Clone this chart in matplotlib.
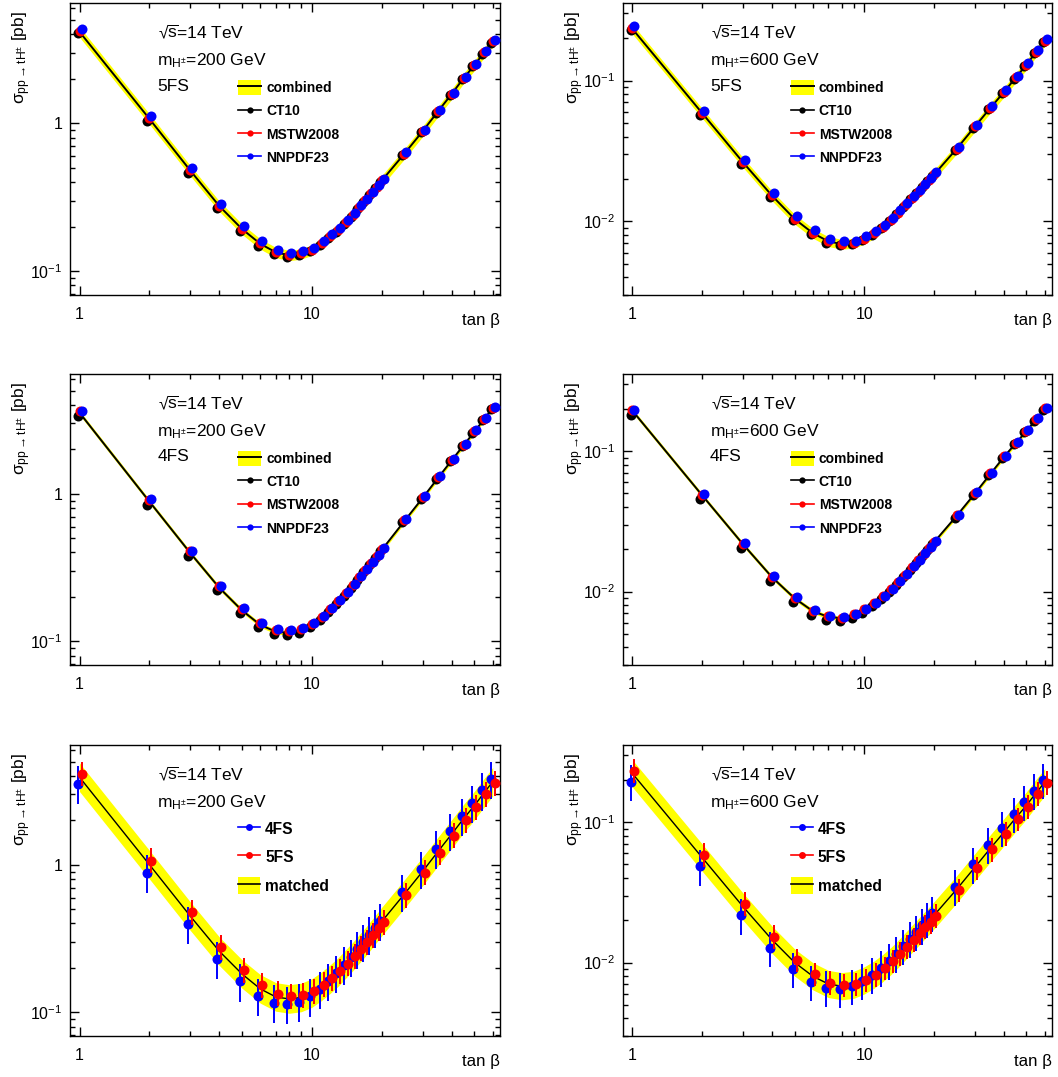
import numpy as np
import matplotlib
matplotlib.use('Agg')
import matplotlib.pyplot as plt
from matplotlib.lines import Line2D
from matplotlib.patches import Patch
from matplotlib.ticker import FixedLocator, FixedFormatter, LogLocator, NullFormatter

plt.rcParams['font.family'] = ['Liberation Sans', 'DejaVu Sans']
plt.rcParams['mathtext.fontset'] = 'custom'
plt.rcParams['mathtext.rm'] = 'Liberation Sans'
plt.rcParams['mathtext.it'] = 'Liberation Sans:italic'
plt.rcParams['mathtext.bf'] = 'Liberation Sans:bold'
plt.rcParams['mathtext.default'] = 'regular'
plt.rcParams['mathtext.fallback'] = 'stixsans'

# ---------------- data ----------------
tanb = [1, 2, 3, 4, 5, 6, 7, 8, 9, 10, 11, 12, 13, 14, 15, 16, 17, 18, 19, 20,
        25, 30, 35, 40, 45, 50, 55, 60]

# 5FS, mH = 200 GeV
comb5_200 = [4.15, 1.07, 0.478, 0.275, 0.193, 0.153, 0.134, 0.128, 0.131, 0.139, 0.154, 0.171, 0.190, 0.214,
             0.240, 0.270, 0.300, 0.335, 0.372, 0.410, 0.622, 0.885, 1.21, 1.58, 2.02, 2.46, 3.00, 3.57]
ct10_5_200 = [4.05, 1.04, 0.463, 0.267, 0.188, 0.149, 0.131, 0.125, 0.128, 0.136, 0.150, 0.167, 0.185, 0.209,
              0.234, 0.264, 0.293, 0.327, 0.364, 0.401, 0.609, 0.867, 1.18, 1.55, 1.98, 2.42, 2.95, 3.51]
mstw5_200 = [4.18, 1.08, 0.481, 0.277, 0.194, 0.154, 0.135, 0.129, 0.132, 0.140, 0.155, 0.172, 0.191, 0.215,
             0.241, 0.271, 0.301, 0.336, 0.373, 0.411, 0.624, 0.888, 1.21, 1.58, 2.03, 2.47, 3.01, 3.58]
nnpdf5_200 = [4.36, 1.12, 0.497, 0.286, 0.201, 0.159, 0.139, 0.133, 0.136, 0.144, 0.160, 0.177, 0.197, 0.221,
              0.248, 0.278, 0.309, 0.344, 0.382, 0.421, 0.637, 0.904, 1.23, 1.61, 2.06, 2.51, 3.06, 3.64]

# 4FS, mH = 200 GeV
comb4_200 = [3.55, 0.885, 0.396, 0.230, 0.162, 0.129, 0.116, 0.114, 0.118, 0.128, 0.144, 0.163, 0.185, 0.210,
             0.237, 0.268, 0.300, 0.336, 0.375, 0.417, 0.653, 0.940, 1.29, 1.69, 2.14, 2.63, 3.20, 3.82]
ct10_4_200 = [3.35, 0.843, 0.381, 0.222, 0.156, 0.125, 0.112, 0.110, 0.114, 0.124, 0.140, 0.158, 0.180, 0.204,
              0.231, 0.262, 0.294, 0.330, 0.369, 0.410, 0.643, 0.928, 1.27, 1.66, 2.10, 2.59, 3.15, 3.77]
mstw4_200 = [3.62, 0.911, 0.407, 0.236, 0.166, 0.132, 0.119, 0.117, 0.121, 0.131, 0.147, 0.166, 0.188, 0.213,
             0.241, 0.272, 0.305, 0.341, 0.381, 0.423, 0.661, 0.951, 1.30, 1.70, 2.15, 2.65, 3.22, 3.85]
nnpdf4_200 = [3.66, 0.920, 0.411, 0.238, 0.168, 0.134, 0.121, 0.119, 0.123, 0.133, 0.149, 0.168, 0.190, 0.216,
              0.244, 0.276, 0.309, 0.346, 0.386, 0.429, 0.670, 0.963, 1.32, 1.72, 2.18, 2.69, 3.27, 3.91]

# matched, mH = 200 GeV
matched_200 = [3.93, 1.002, 0.448, 0.259, 0.182, 0.144, 0.127, 0.123, 0.126, 0.135, 0.150, 0.168, 0.188, 0.213,
               0.239, 0.269, 0.300, 0.335, 0.373, 0.413, 0.633, 0.905, 1.24, 1.62, 2.06, 2.52, 3.07, 3.66]

# 5FS, mH = 600 GeV
comb5_600 = [0.232, 0.0585, 0.0262, 0.0152, 0.0104, 0.00825, 0.0072, 0.0069, 0.0070, 0.0075, 0.0082, 0.0091,
             0.0102, 0.0115, 0.0130, 0.0146, 0.0162, 0.0179, 0.0196, 0.0215, 0.0327, 0.0471, 0.0640, 0.0826,
             0.105, 0.129, 0.159, 0.190]
ct10_5_600 = [0.228, 0.0573, 0.0257, 0.0149, 0.01019, 0.00808, 0.00706, 0.00676, 0.00686, 0.00735, 0.00804,
              0.00892, 0.0100, 0.01127, 0.01274, 0.01431, 0.01588, 0.01754, 0.01921, 0.02107, 0.03205, 0.04616,
              0.0627, 0.0809, 0.1029, 0.1264, 0.1558, 0.1862]
mstw5_600 = [0.234, 0.0588, 0.0264, 0.01528, 0.01045, 0.00829, 0.00724, 0.00693, 0.00704, 0.00754, 0.00824,
             0.00915, 0.01025, 0.01155, 0.01306, 0.01467, 0.01628, 0.01799, 0.0197, 0.0216, 0.03286, 0.04733,
             0.0643, 0.0830, 0.1055, 0.1296, 0.1598, 0.1909]
nnpdf5_600 = [0.243, 0.0611, 0.0274, 0.01588, 0.01087, 0.00862, 0.00752, 0.0072, 0.00731, 0.00782, 0.00855,
              0.00948, 0.01062, 0.01196, 0.01351, 0.01516, 0.01681, 0.01856, 0.0203, 0.0223, 0.03385, 0.04869,
              0.0661, 0.0853, 0.1083, 0.1330, 0.1638, 0.1955]

# 4FS, mH = 600 GeV
comb4_600 = [0.194, 0.0484, 0.0217, 0.01265, 0.00897, 0.00725, 0.0066, 0.00646, 0.0068, 0.0074, 0.0082, 0.0092,
             0.0103, 0.0116, 0.0131, 0.0148, 0.0165, 0.0184, 0.0204, 0.0225, 0.0346, 0.0500, 0.0690, 0.0910,
             0.114, 0.139, 0.168, 0.200]
ct10_4_600 = [0.182, 0.0455, 0.0204, 0.01191, 0.00846, 0.00686, 0.00626, 0.00615, 0.00649, 0.00708, 0.00786,
              0.00884, 0.00991, 0.01118, 0.01264, 0.0143, 0.01597, 0.01783, 0.0198, 0.02186, 0.0337, 0.0488,
              0.06745, 0.08905, 0.1117, 0.1363, 0.1648, 0.1962]
mstw4_600 = [0.196, 0.0489, 0.0219, 0.01278, 0.00906, 0.00732, 0.00667, 0.00652, 0.00687, 0.00747, 0.00828,
             0.00929, 0.0104, 0.01172, 0.01323, 0.01495, 0.01667, 0.01858, 0.0206, 0.0227, 0.0349, 0.0505,
             0.0697, 0.0919, 0.1151, 0.1404, 0.1697, 0.2020]
nnpdf4_600 = [0.198, 0.0494, 0.0221, 0.0129, 0.00915, 0.0074, 0.00673, 0.00659, 0.00694, 0.00755, 0.00836,
              0.00938, 0.01051, 0.01183, 0.01336, 0.0151, 0.01683, 0.01877, 0.0208, 0.0230, 0.0353, 0.0510,
              0.0704, 0.0928, 0.1163, 0.1418, 0.1714, 0.2040]

# matched, mH = 600 GeV
matched_600 = [0.222, 0.0559, 0.0250, 0.01454, 0.01003, 0.00799, 0.00704, 0.00679, 0.00695, 0.00747, 0.0082,
               0.00913, 0.01023, 0.01153, 0.01303, 0.01465, 0.01628, 0.01803, 0.01981, 0.02176, 0.0332, 0.04785,
               0.0653, 0.0848, 0.1073, 0.1316, 0.1613, 0.1926]

band_5fs = 0.08
band_4fs = 0.035
band_matched_up = 0.25
band_matched_dn = 0.20
err4_up, err4_dn = 0.31, 0.27
err5_up, err5_dn = 0.21, 0.18

pdf_names = ['CT10', 'MSTW2008', 'NNPDF23']
scheme_names = ['4FS', '5FS']
masses = ['200', '600']

xtick_vals = [1, 10]
xtick_labels = ['1', '10']
ytick_vals_200 = [0.1, 1]
ytick_labels_200 = [r'$10^{-1}$', '1']
ytick_vals_600 = [0.01, 0.1]
ytick_labels_600 = [r'$10^{-2}$', r'$10^{-1}$']

# ---------------- layout ----------------
W, H = 1058, 1077
fig = plt.figure(figsize=(W / 100, H / 100), dpi=100)

cols = [(70, 430), (623, 429)]
rows = [(3, 292), (374, 291), (745, 291)]

YLIM = {'200': (0.069, 6.5), '600': (0.003, 0.355)}
XLIM = (0.91, 64.5)

PDF_COL = ['black', 'red', 'blue']


def make_axes(col, row):
    x0, w = cols[col]
    y0, h = rows[row]
    ax = fig.add_axes([x0 / W, 1 - (y0 + h) / H, w / W, h / H])
    return ax


def style_axes(ax, mass, col, row):
    ax.set_xscale('log')
    ax.set_yscale('log')
    ax.set_xlim(*XLIM)
    ax.set_ylim(*YLIM[mass])
    ax.xaxis.set_major_locator(FixedLocator(xtick_vals))
    ax.xaxis.set_major_formatter(FixedFormatter(xtick_labels))
    ax.xaxis.set_minor_locator(LogLocator(base=10, subs=np.arange(2, 10), numticks=50))
    ax.xaxis.set_minor_formatter(NullFormatter())
    if mass == '200':
        ax.yaxis.set_major_locator(FixedLocator(ytick_vals_200))
        ax.yaxis.set_major_formatter(FixedFormatter(ytick_labels_200))
    else:
        ax.yaxis.set_major_locator(FixedLocator(ytick_vals_600))
        ax.yaxis.set_major_formatter(FixedFormatter(ytick_labels_600))
    ax.yaxis.set_minor_locator(LogLocator(base=10, subs=np.arange(2, 10), numticks=50))
    ax.yaxis.set_minor_formatter(NullFormatter())
    ax.tick_params(which='both', direction='in', top=True, right=True, width=1.0, labelsize=11.5)
    ax.tick_params(which='major', length=6.5)
    ax.tick_params(which='minor', length=3.6)
    ax.tick_params(axis='x', which='major', pad=8.5)
    ax.tick_params(axis='y', which='major', pad=5.4)
    for s in ax.spines.values():
        s.set_linewidth(1.0)
    ax.text(1.0, -0.089, 'tan β', transform=ax.transAxes, ha='right', va='center', fontsize=12.2)
    x0, w = cols[col]
    y0, h = rows[row]
    fig.text((x0 - 48) / W, 1 - (y0 + 8) / H, r'$\sigma_{pp \rightarrow tH^{\pm}}$ [pb]',
             rotation=90, ha='center', va='top', fontsize=12.5)
    ax.text(0.205, 0.877, '√' + r'$\overline{\mathrm{s}}$' + '=14 TeV', transform=ax.transAxes,
            ha='left', va='baseline', fontsize=12.5)
    ax.text(0.203, 0.785, r'm$_{H^{\pm}}$=' + mass + ' GeV', transform=ax.transAxes, ha='left',
            va='baseline', fontsize=12.5)


def pdf_panel(col, row, mass, scheme, comb, band, series):
    ax = make_axes(col, row)
    x = np.array(tanb, dtype=float)
    c = np.array(comb)
    ax.fill_between(x, c * (1 - band), c * (1 + band), color='#ffff00', lw=0, zorder=1)
    ax.plot(x, c, color='black', lw=1.4, zorder=2)
    shifts = [1 / 1.02, 1.0, 1.02]
    for vals, colr, sh in zip(series, PDF_COL, shifts):
        ax.plot(x * sh, vals, 'o', color=colr, ms=7.2, mew=0, zorder=3)
    style_axes(ax, mass, col, row)
    ax.text(0.203, 0.700, scheme, transform=ax.transAxes, ha='left', va='baseline', fontsize=12.5)
    handles = [(Patch(facecolor='#ffff00', edgecolor='none'), Line2D([], [], color='black', lw=1.4))]
    for colr in PDF_COL:
        handles.append(Line2D([], [], color=colr, lw=1.2, marker='o', ms=4.5, mew=0))
    ax.legend(handles, ['combined'] + pdf_names, loc='upper left', bbox_to_anchor=(0.391, 0.735),
              frameon=False, borderpad=0, borderaxespad=0, handlelength=1.66, handleheight=1.22,
              handletextpad=0.36, labelspacing=0.60, prop={'weight': 'bold', 'size': 10})
    return ax


def match_panel(col, row, mass, c4, c5, matched):
    ax = make_axes(col, row)
    x = np.array(tanb, dtype=float)
    m = np.array(matched)
    ax.fill_between(x, m * (1 - band_matched_dn), m * (1 + band_matched_up), color='#ffff00', lw=0, zorder=1)
    ax.plot(x, m, color='black', lw=1.0, zorder=2)
    a4 = np.array(c4)
    a5 = np.array(c5)
    ax.errorbar(x / 1.02, a4, yerr=[a4 * err4_dn, a4 * err4_up], fmt='o', color='blue', ms=7.2, mew=0,
                elinewidth=1.4, capsize=0, zorder=3)
    ax.errorbar(x * 1.02, a5, yerr=[a5 * err5_dn, a5 * err5_up], fmt='o', color='red', ms=7.2, mew=0,
                elinewidth=1.4, capsize=0, zorder=4)
    style_axes(ax, mass, col, row)
    handles = [Line2D([], [], color='blue', lw=1.2, marker='o', ms=5, mew=0),
               Line2D([], [], color='red', lw=1.2, marker='o', ms=5, mew=0),
               (Patch(facecolor='#ffff00', edgecolor='none'), Line2D([], [], color='black', lw=1.2))]
    ax.legend(handles, scheme_names + ['matched'], loc='upper left', bbox_to_anchor=(0.391, 0.742),
              frameon=False, borderpad=0, borderaxespad=0, handlelength=1.41, handleheight=1.28,
              handletextpad=0.32, labelspacing=0.75, prop={'weight': 'bold', 'size': 11.2})
    return ax


pdf_panel(0, 0, '200', '5FS', comb5_200, band_5fs, [ct10_5_200, mstw5_200, nnpdf5_200])
pdf_panel(1, 0, '600', '5FS', comb5_600, band_5fs, [ct10_5_600, mstw5_600, nnpdf5_600])
pdf_panel(0, 1, '200', '4FS', comb4_200, band_4fs, [ct10_4_200, mstw4_200, nnpdf4_200])
pdf_panel(1, 1, '600', '4FS', comb4_600, band_4fs, [ct10_4_600, mstw4_600, nnpdf4_600])
match_panel(0, 2, '200', comb4_200, comb5_200, matched_200)
match_panel(1, 2, '600', comb4_600, comb5_600, matched_600)

fig.savefig('out.png', dpi=100)
